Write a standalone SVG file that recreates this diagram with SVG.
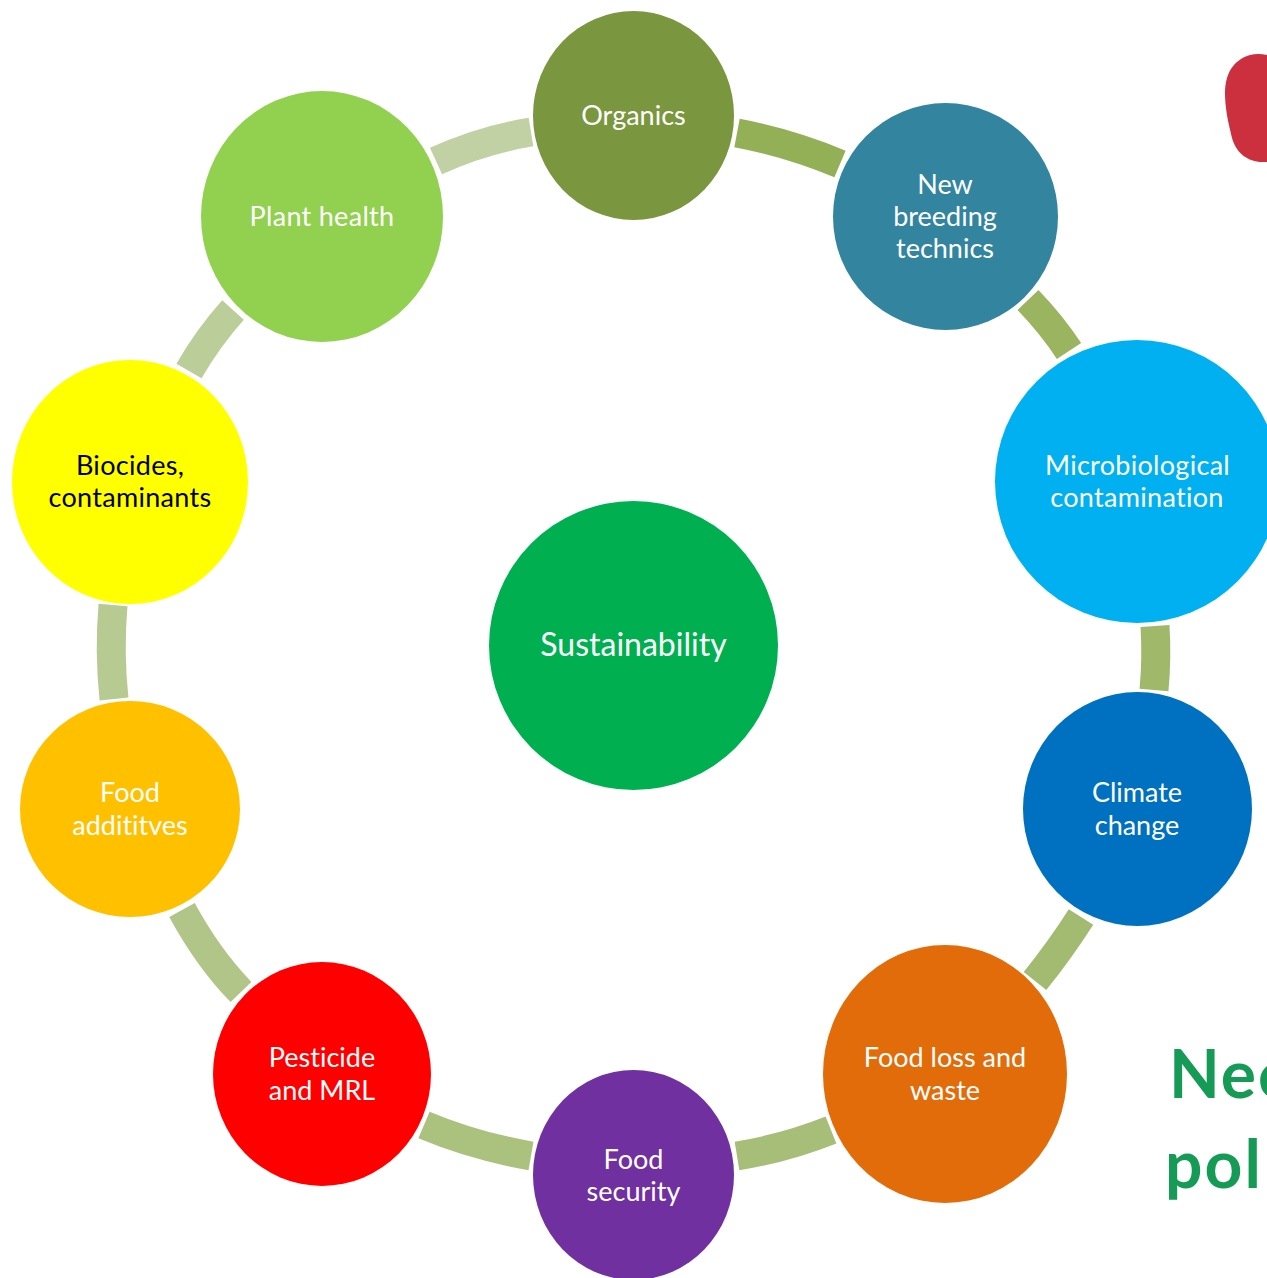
<svg xmlns="http://www.w3.org/2000/svg" width="1267" height="1278" viewBox="0 0 1267 1278">
<style>
text{font-family:"Lato","Open Sans",sans-serif;font-size:27px;fill:#fff;text-anchor:middle;font-variant-ligatures:none}
.c{fill:none;stroke-width:29}
.k{fill:#000}
.w{letter-spacing:.3px}
.big{font-size:66px;font-weight:700;fill:#169b57;text-anchor:start;letter-spacing:2px}
</style>
<rect width="1267" height="1278" fill="#fff"/>
<g id="connectors">
<path class="c" d="M737 133Q790 143 840 164" stroke="#94b057"/>
<path class="c" d="M1028 300Q1052 325 1069 351" stroke="#9bb45f"/>
<path class="c" d="M1155 626Q1157 658 1154 690" stroke="#9fb869"/>
<path class="c" d="M1081 917Q1060 950 1035 981" stroke="#a3bb70"/>
<path class="c" d="M831 1130Q786 1148 737 1156" stroke="#a7be78"/>
<path class="c" d="M531 1156Q474 1146 424 1125" stroke="#abc17e"/>
<path class="c" d="M241 992Q208 958 182 910" stroke="#b0c587"/>
<path class="c" d="M114 699Q109 652 113 605" stroke="#b7ca92"/>
<path class="c" d="M189 371Q208 338 233 310" stroke="#bbcd99"/>
<path class="c" d="M436 161Q482 140 531 132" stroke="#c1d1a4"/>
</g>
<g id="n-sustainability"><ellipse cx="633.5" cy="645.5" rx="144.5" ry="144.5" fill="#00b050"/><text x="633.5" y="656" style="font-size:32px">Sustainability</text></g>
<g id="n-organics"><ellipse cx="633.5" cy="115.5" rx="100.5" ry="104.5" fill="#7a963e"/><text x="633.5" y="125">Organics</text></g>
<g id="n-breeding"><ellipse cx="945.5" cy="216.5" rx="112.5" ry="113.5" fill="#33849f"/><text x="945" y="194">New</text><text x="945" y="226">breeding</text><text x="945" y="258">technics</text></g>
<g id="n-micro"><ellipse cx="1137" cy="481.5" rx="142" ry="141.5" fill="#00b0f0"/><text x="1137.5" y="475" class="w">Microbiological</text><text x="1137" y="507" class="w">contamination</text></g>
<g id="n-climate"><ellipse cx="1137.5" cy="809" rx="114.5" ry="117" fill="#0070c0"/><text x="1137" y="802">Climate</text><text x="1137" y="835">change</text></g>
<g id="n-waste"><ellipse cx="945" cy="1074" rx="122" ry="129" fill="#e36c0a"/><text x="945" y="1067">Food loss and</text><text x="945" y="1100">waste</text></g>
<g id="n-security"><ellipse cx="633.5" cy="1175" rx="100.5" ry="105" fill="#7030a0"/><text x="633.5" y="1169">Food</text><text x="633.5" y="1201">security</text></g>
<g id="n-pesticide"><ellipse cx="322" cy="1074" rx="109" ry="112" fill="#ff0000"/><text x="322" y="1067">Pesticide</text><text x="322" y="1100">and MRL</text></g>
<g id="n-additives"><ellipse cx="130" cy="809" rx="110" ry="108" fill="#ffc000"/><text x="130" y="802">Food</text><text x="130" y="835">addititves</text></g>
<g id="n-biocides"><ellipse cx="130" cy="482" rx="118" ry="122" fill="#ffff00"/><text x="130" y="475" class="k w">Biocides,</text><text x="130" y="507" class="k w">contaminants</text></g>
<g id="n-plant"><ellipse cx="322" cy="216.5" rx="121" ry="125.5" fill="#92d050"/><text x="322" y="226" class="w">Plant health</text></g>
<path d="M1267 55Q1258 53 1250 55C1233 60 1225 74 1225 93C1225 108 1228 122 1232 138C1236 153 1248 162 1262 162L1267 162Z" fill="#cc2f3d"/>
<text x="1169" y="1098" class="big">Need</text>
<text x="1165" y="1188" class="big">pol</text>
</svg>
